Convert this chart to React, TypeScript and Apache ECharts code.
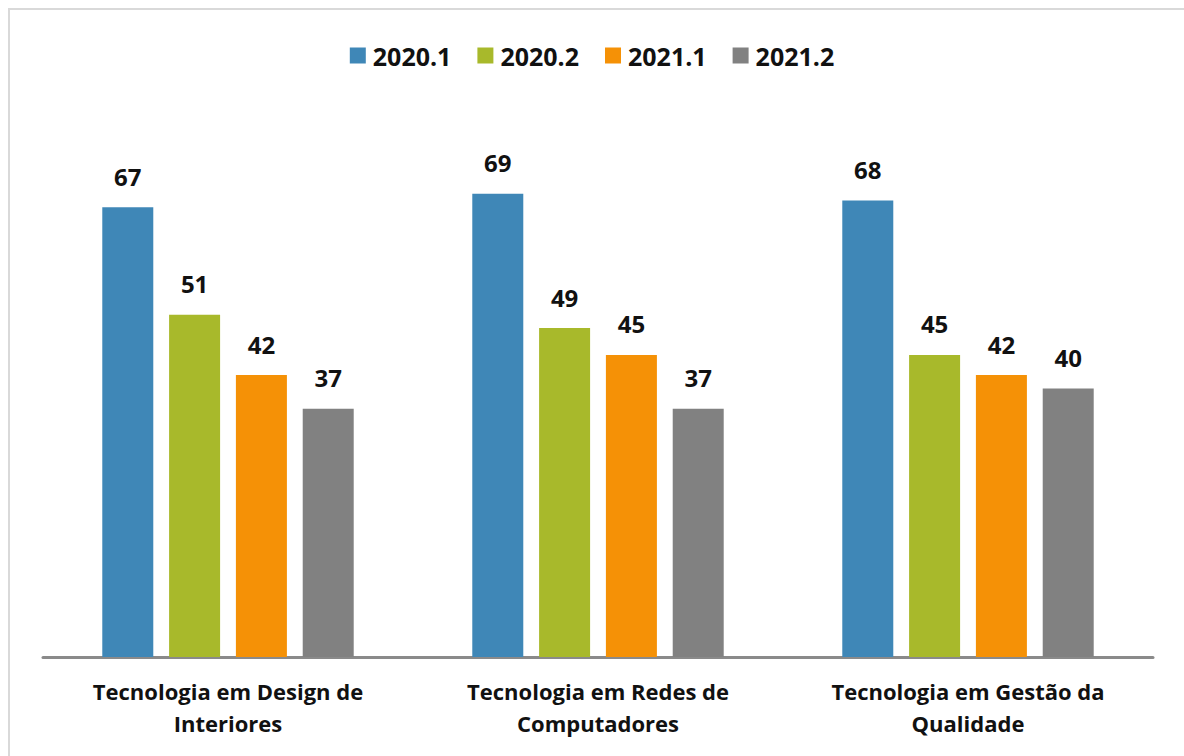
import React, { useEffect, useRef } from "react";
import * as echarts from "echarts";

const categories = [
  "Tecnologia em Design de Interiores",
  "Tecnologia em Redes de Computadores",
  "Tecnologia em Gestão da Qualidade",
];
const seriesNames = ["2020.1", "2020.2", "2021.1", "2021.2"];
const s2020_1 = [67, 69, 68];
const s2020_2 = [51, 49, 45];
const s2021_1 = [42, 45, 42];
const s2021_2 = [37, 37, 40];
const seriesValues = [s2020_1, s2020_2, s2021_1, s2021_2];
const colors = ["#3F87B7", "#A8B92B", "#F59106", "#818181"];

const FONT = "'Open Sans', sans-serif";

export default function App() {
  const ref = useRef<HTMLDivElement>(null);
  useEffect(() => {
    if (!ref.current) return;
    const chart = echarts.init(ref.current, null, { renderer: "svg" });
    chart.setOption({
      animation: false,
      backgroundColor: "#ffffff",
      textStyle: { fontFamily: FONT },
      graphic: [
        {
          type: "rect",
          shape: { x: 9, y: 9, width: 1200, height: 800 },
          style: { fill: "none", stroke: "#d9d9d9", lineWidth: 2 },
          silent: true,
        },
      ],
      legend: {
        top: 38,
        left: "center",
        itemWidth: 16,
        itemHeight: 16,
        itemGap: 26,
        icon: "rect",
        textStyle: {
          fontFamily: FONT,
          fontSize: 25,
          fontWeight: "bold",
          color: "#111",
          padding: [0, 0, 0, 2],
        },
        data: seriesNames,
      },
      grid: { left: 43, right: 31, top: 120, bottom: 99 },
      xAxis: {
        type: "category",
        data: categories,
        axisLine: { lineStyle: { color: "#8a8a8a", width: 3 } },
        axisTick: { show: false },
        axisLabel: {
          margin: 18,
          fontFamily: FONT,
          fontSize: 22,
          fontWeight: "bold",
          color: "#111",
          lineHeight: 32,
          align: "center",
          formatter: (v: string) => {
            const i = v.lastIndexOf(" ");
            return v.slice(0, i) + "\n" + v.slice(i + 1);
          },
        },
      },
      yAxis: {
        type: "value",
        min: 0,
        max: 80,
        show: false,
        splitLine: { show: false },
      },
      series: seriesNames.map((name, i) => ({
        name,
        type: "bar",
        data: seriesValues[i],
        barWidth: 51,
        barGap: "31%",
        itemStyle: { color: colors[i] },
        label: {
          show: true,
          position: "top",
          distance: 19,
          fontFamily: FONT,
          fontSize: 24,
          fontWeight: "bold",
          color: "#111",
        },
      })),
    });
    return () => chart.dispose();
  }, []);
  return (
    <div
      ref={ref}
      style={{ position: "fixed", left: 0, top: 0, width: 1184, height: 756 }}
    />
  );
}
